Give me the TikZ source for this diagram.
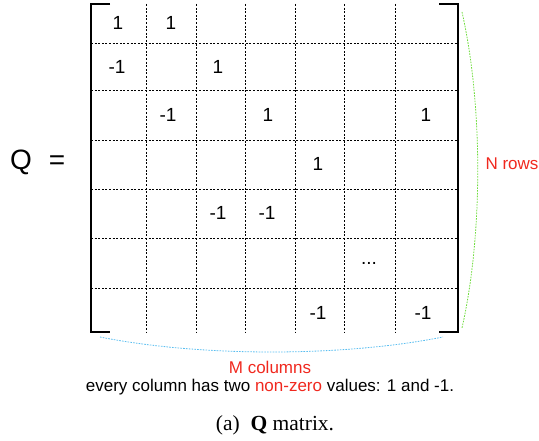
\documentclass[tikz,border=0pt]{standalone}
\usepackage{fontspec}
\setmainfont{Liberation Serif}
\setsansfont{Liberation Sans}
\usepackage{tikz}
\usetikzlibrary{positioning}
\definecolor{rowsgreen}{RGB}{110,220,60}
\definecolor{colsblue}{RGB}{90,190,240}
\definecolor{labelred}{RGB}{240,40,30}

\begin{document}
\begin{tikzpicture}[x=1pt, y=-1pt,
            grid/.style={draw, black, line width=0.8pt, dash pattern=on 2pt off 1.6pt},
            bracket/.style={draw, black, line width=2.4pt},
            entry/.style={font=\sffamily\fontsize{19}{19}\selectfont, inner sep=0pt},
            label/.style={font=\sffamily\fontsize{17}{17}\selectfont, inner sep=0pt},
            brace/.style={draw, line width=0.8pt, dash pattern=on 1.6pt off 1.2pt}
        ]
            \useasboundingbox (0,0) rectangle (539,441);

            % Q =
            \node (q) at (21,162) [font=\sffamily\fontsize{28}{28}\selectfont, inner sep=0pt] {Q};
            \node (eq) at (57,163) [font=\sffamily\fontsize{28}{28}\selectfont, inner sep=0pt] {=};

            % Dotted grid
            \foreach \y in {43,90,140,189,238,288}
                \draw [grid] (91,\y) -- (457,\y);
            \foreach \x in {146,196,245,295,344,395}
                \draw [grid] (\x,4) -- (\x,332);

            % Brackets
            \draw [bracket] (110,4) -- (91,4) -- (91,332) -- (110,332);
            \draw [bracket] (439,4) -- (458,4) -- (458,332) -- (439,332);

            % Non-zero entries
            \foreach \x/\y/\v [count=\i] in {118/23/1, 171/23/1,
                    117/67/-1, 218/67/1,
                    168/115/-1, 268/115/1, 426/115/1,
                    318/164/1,
                    218/213/-1, 267/213/-1,
                    318/313/-1, 423/313/-1}
                \node (e\i) at (\x,\y) [entry] {\v};
            \node (dots) at (369,263) [entry] {...};

            % Rows and columns
            \coordinate (rtop) at (462,12);
            \coordinate (rbot) at (462,328);
            \draw [brace, rowsgreen] (rtop) .. controls (483,105) and (483,235) .. (rbot);
            \node (rows) at (512,164) [label, labelred] {N rows};

            \coordinate (cleft) at (100,337);
            \coordinate (cright) at (443,337);
            \draw [brace, colsblue] (cleft) .. controls (200,357) and (343,357) .. (cright);
            \node (cols) at (270,367) [label, labelred] {M columns};
            \node (note) [below=6pt of cols, label] {every column has two \textcolor{labelred}{non-zero} values: 1 and -1.};

            % Caption
            \node (cap) at (275,425) [font=\rmfamily\fontsize{21.5}{21.5}\selectfont] {(a)~\ \textbf{Q} matrix.};
        \end{tikzpicture}
\end{document}
